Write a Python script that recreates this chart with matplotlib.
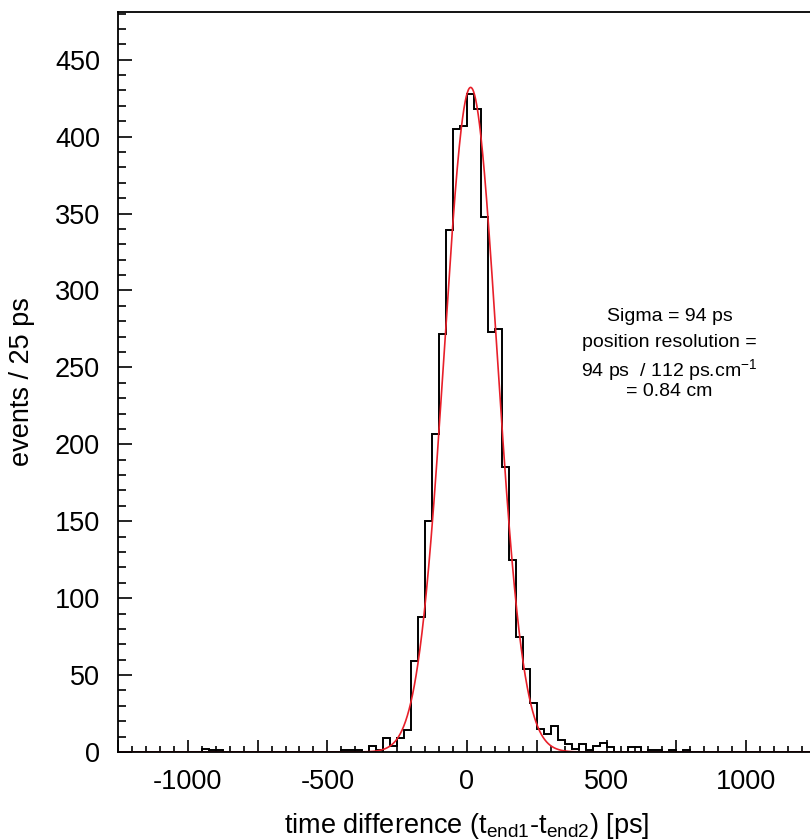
import numpy as np
import matplotlib
matplotlib.use('Agg')
import matplotlib.pyplot as plt
from matplotlib.ticker import MultipleLocator, FuncFormatter

plt.rcParams['font.family'] = ['Liberation Sans', 'DejaVu Sans']
plt.rcParams['mathtext.fontset'] = 'custom'
plt.rcParams['mathtext.rm'] = 'Liberation Sans'
plt.rcParams['mathtext.it'] = 'Liberation Sans'

# histogram: 25 ps bins from -1250 to 1250 ps
bin_start = -1250
bin_width = 25
counts = [
    0, 0, 0, 0, 0, 0, 0, 0, 0, 0,          # -1250 .. -1000
    0, 0, 2, 1, 1, 0, 0, 0, 0, 0,          # -1000 .. -750
    0, 0, 0, 0, 0, 0, 0, 0, 0, 0,          # -750 .. -500
    0, 0, 1, 1, 1, 0, 4, 1, 9, 4,          # -500 .. -250
    9, 14, 59, 88, 150, 207, 272, 339, 405, 407,   # -250 .. 0
    428, 418, 348, 273, 275, 185, 125, 75, 54, 32,  # 0 .. 250
    15, 12, 17, 8, 5, 2, 5, 1, 4, 6,       # 250 .. 500
    3, 0, 0, 3, 3, 0, 1, 1, 0, 1,          # 500 .. 750
    0, 1, 0, 0, 0, 0, 0, 0, 0, 0,          # 750 .. 1000
    0, 0, 0, 0, 0, 0, 0, 0, 0, 0,          # 1000 .. 1250
]
edges = bin_start + bin_width * np.arange(len(counts) + 1)

# gaussian fit parameters
fit_amp = 432.0
fit_mean = 13.0
fit_sigma = 94.0

text_lines = ['Sigma = 94 ps', 'position resolution =',
              r'94 ps  / 112 ps.cm$^{-1}$', '= 0.84 cm']
text_y = [283, 266, 248, 234]

fig = plt.figure(figsize=(8.1, 8.4), dpi=100)
ax = fig.add_axes([118/810, 1 - 752/840, (816 - 118)/810, (752 - 12)/840])

ax.stairs(counts, edges, color='black', linewidth=1.4)

xf = np.linspace(-1250, 1250, 2001)
yf = fit_amp * np.exp(-0.5 * ((xf - fit_mean) / fit_sigma) ** 2)
ax.plot(xf, yf, color='#e8202a', linewidth=1.2)

for s, y in zip(text_lines, text_y):
    ax.text(725, y, s, ha='center', va='center', fontsize=14)

ax.set_xlim(-1250, 1250)
ax.set_ylim(0, 481)

ax.xaxis.set_major_locator(MultipleLocator(250))
ax.xaxis.set_minor_locator(MultipleLocator(50))
ax.xaxis.set_major_formatter(FuncFormatter(lambda v, p: f'{v:.0f}' if v % 500 == 0 else ''))
ax.yaxis.set_major_locator(MultipleLocator(50))
ax.yaxis.set_minor_locator(MultipleLocator(10))

ax.tick_params(axis='both', which='both', direction='in', labelsize=19.5, width=1.2)
ax.tick_params(axis='y', which='major', length=10, pad=13)
ax.tick_params(axis='y', which='minor', length=6)
ax.tick_params(axis='x', which='major', length=9, pad=12)
ax.tick_params(axis='x', which='minor', length=4.5)

for sp in ax.spines.values():
    sp.set_linewidth(1.3)

ax.set_xlabel(r'time difference (t$_{\mathrm{end1}}$-t$_{\mathrm{end2}}$) [ps]', fontsize=19.5, labelpad=12)
ax.set_ylabel('events / 25 ps', fontsize=19.5, labelpad=14)

fig.savefig('out.png', dpi=100)
